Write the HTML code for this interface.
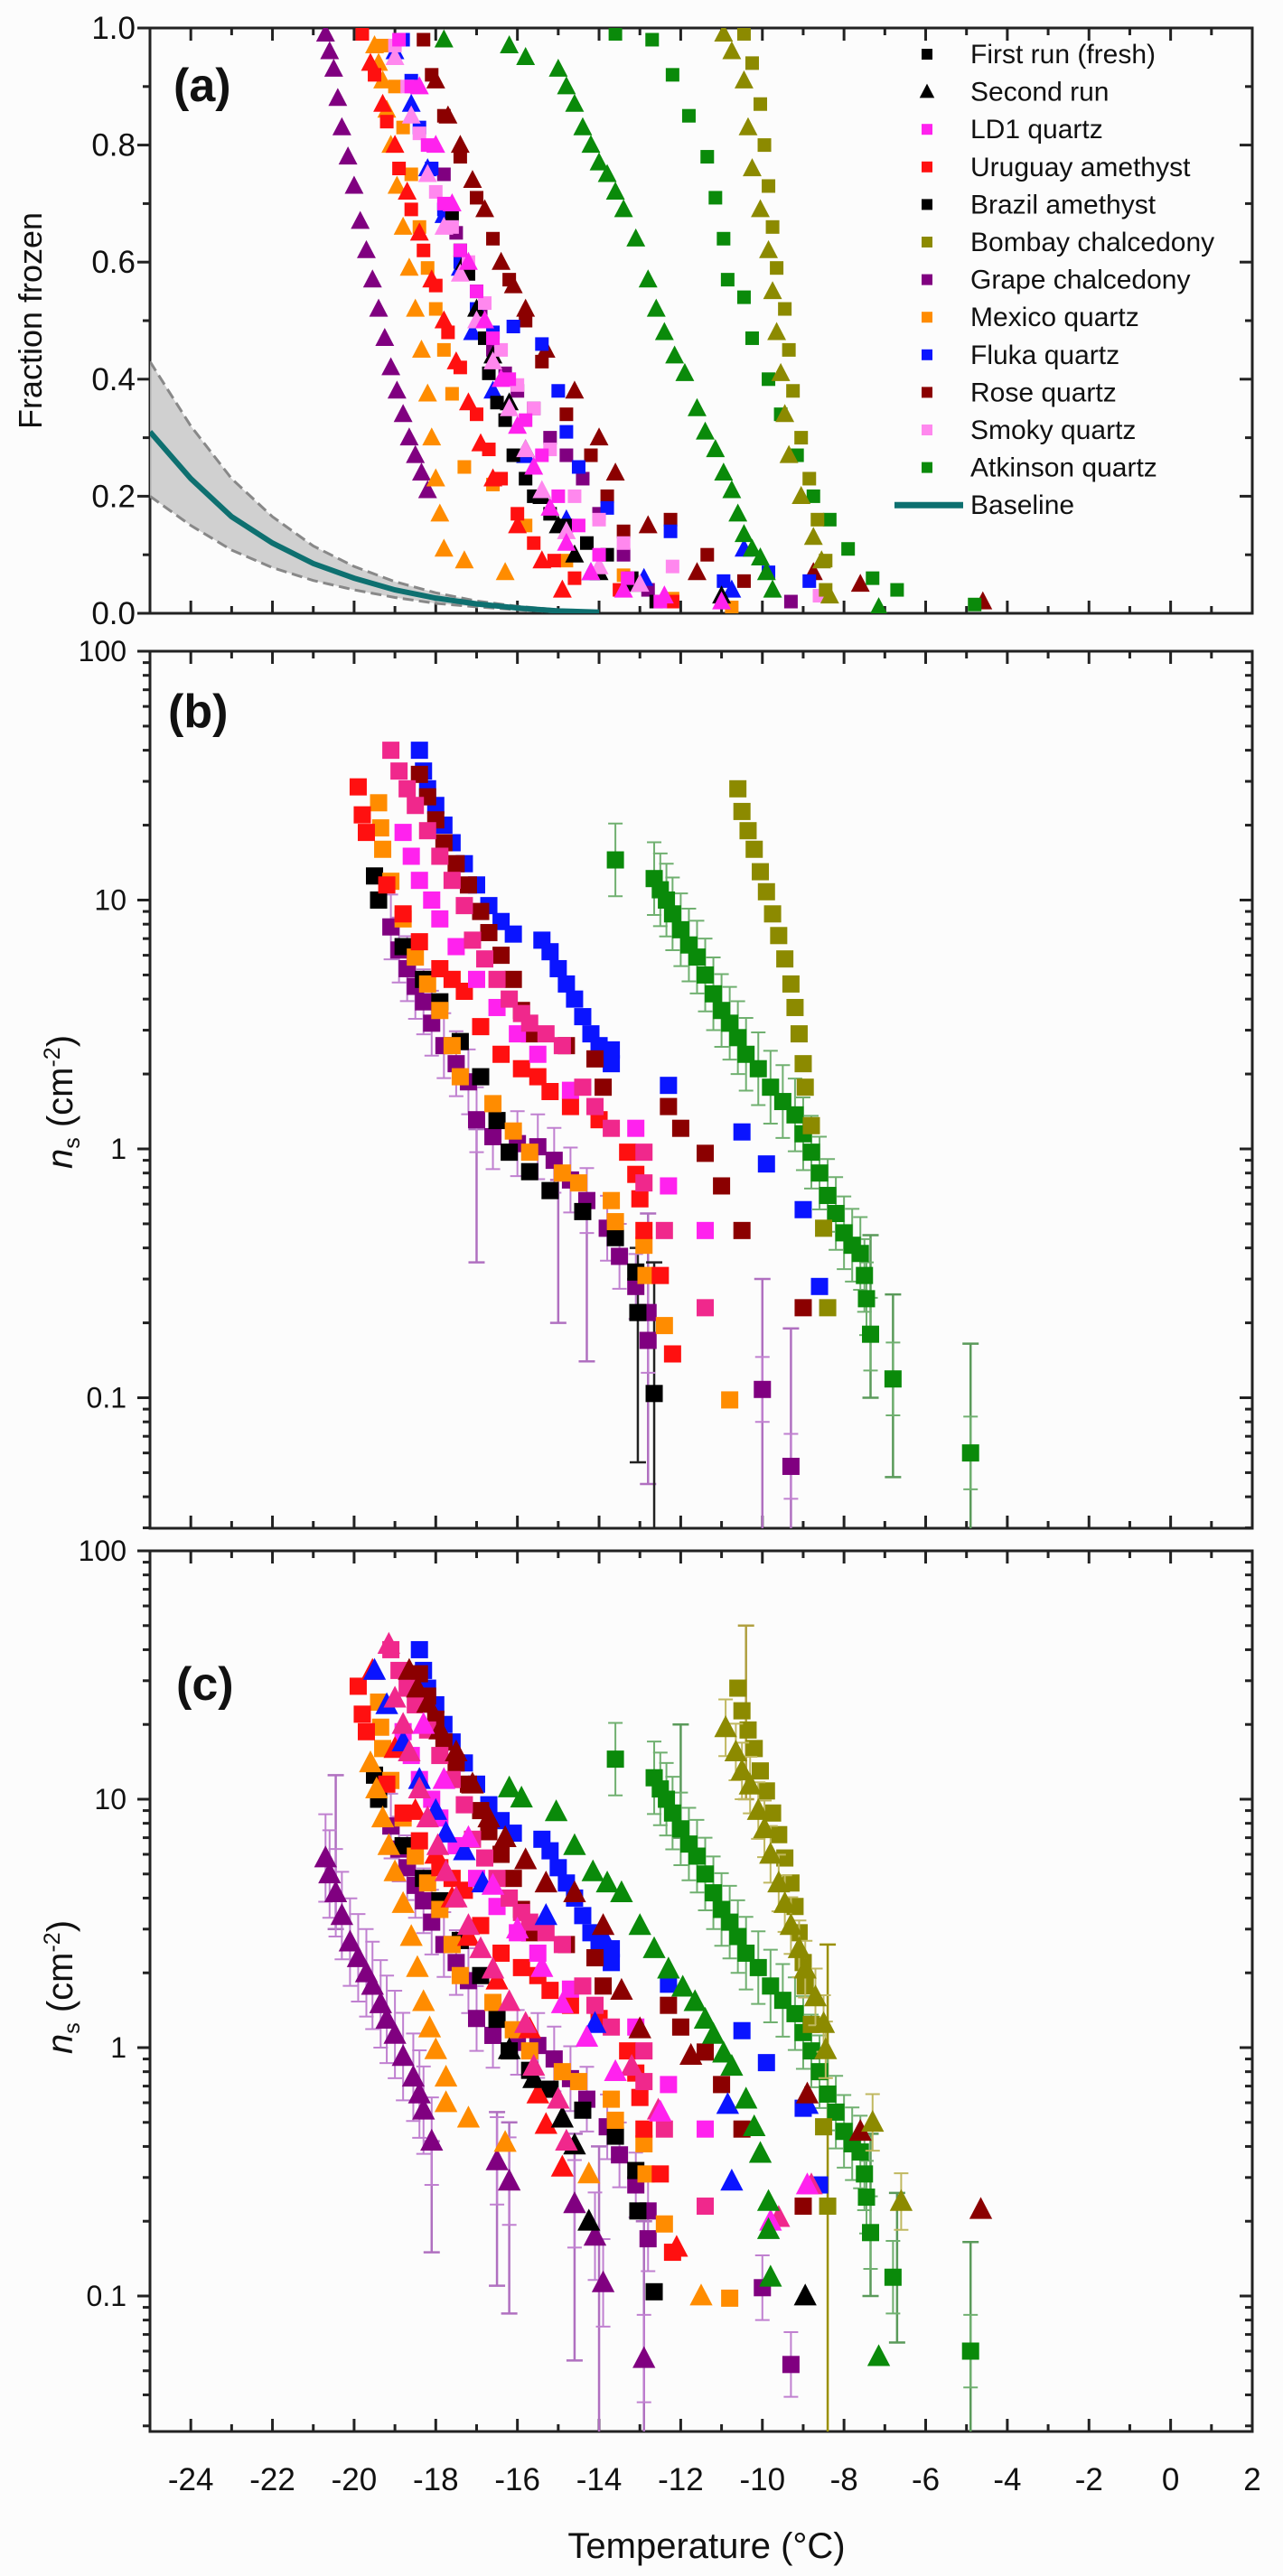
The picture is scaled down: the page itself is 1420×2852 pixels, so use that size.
<!DOCTYPE html>
<html><head><meta charset="utf-8"><style>
html,body{margin:0;padding:0;background:#fcfcfc;}
svg{display:block;}
text{font-family:"Liberation Sans Narrow","Liberation Sans",sans-serif;fill:#111;}
</style></head><body>
<svg id="fig" width="1420" height="2852" viewBox="0 0 1420 2852" xmlns="http://www.w3.org/2000/svg">
<defs>
<clipPath id="clipA"><rect x="166" y="31" width="1220" height="648"/></clipPath>
<clipPath id="clipB"><rect x="166" y="721" width="1220" height="971"/></clipPath>
<clipPath id="clipC"><rect x="166" y="1717" width="1220" height="975"/></clipPath>
</defs>
<g id="axes"></g>
<g id="bandA" clip-path="url(#clipA)"></g>
<g id="dataA" clip-path="url(#clipA)"></g>
<g id="dataB" clip-path="url(#clipB)"></g>
<g id="dataC" clip-path="url(#clipC)"></g>
<g id="legend"></g>
<text x="192" y="112" font-size="52" font-weight="bold" style="font-family:'Liberation Sans',sans-serif">(a)</text>
<text x="186" y="805" font-size="52" font-weight="bold" style="font-family:'Liberation Sans',sans-serif">(b)</text>
<text x="195" y="1882" font-size="52" font-weight="bold" style="font-family:'Liberation Sans',sans-serif">(c)</text>
<text transform="translate(46,355) rotate(-90)" text-anchor="middle" font-size="36" style="font-family:'Liberation Sans',sans-serif">Fraction frozen</text>
<text transform="translate(80,1220) rotate(-90)" text-anchor="middle" font-size="40" style="font-family:'Liberation Sans',sans-serif"><tspan font-style="italic">n</tspan><tspan font-size="25" dy="8">s</tspan><tspan dy="-8"> (cm</tspan><tspan font-size="25" dy="-14">-2</tspan><tspan dy="14">)</tspan></text>
<text transform="translate(80,2200) rotate(-90)" text-anchor="middle" font-size="40" style="font-family:'Liberation Sans',sans-serif"><tspan font-style="italic">n</tspan><tspan font-size="25" dy="8">s</tspan><tspan dy="-8"> (cm</tspan><tspan font-size="25" dy="-14">-2</tspan><tspan dy="14">)</tspan></text>
<text x="782" y="2832" text-anchor="middle" font-size="40">Temperature (°C)</text>
</svg>
<script>
// ---------- x axis ----------
const xTickLabels = ["-24","-22","-20","-18","-16","-14","-12","-10","-8","-6","-4","-2","0","2"];
const xTickValues = [-24,-22,-20,-18,-16,-14,-12,-10,-8,-6,-4,-2,0,2];
const aYTickValues = [0,0.2,0.4,0.6,0.8,1.0];
const aYTickLabels = ["0.0","0.2","0.4","0.6","0.8","1.0"];
const logTickValues = [0.1,1,10,100];
const logTickLabels = ["0.1","1","10","100"];

// ---------- baseline (panel a) ----------
const baseT = [-25,-24,-23,-22,-21,-20,-19,-18,-17,-16,-15,-14];
const baseF = [0.31,0.23,0.165,0.12,0.085,0.06,0.04,0.026,0.016,0.009,0.004,0.002];
const baseHi = [0.43,0.32,0.23,0.165,0.115,0.08,0.054,0.035,0.021,0.012,0.006,0.003];
const baseLo = [0.2,0.15,0.108,0.078,0.056,0.04,0.027,0.017,0.011,0.006,0.002,0.001];

// ---------- panel a : first run (squares) ----------
const aLd1SqT = [-18.9,-18.6,-18.2,-17.8,-17.4,-17.0,-16.6,-16.2,-15.8,-15.4,-15.0,-14.5,-14.0,-13.3,-12.5];
const aLd1SqF = [0.98,0.9,0.8,0.7,0.62,0.55,0.47,0.40,0.33,0.27,0.2,0.15,0.1,0.06,0.02];
const aSmokySqT = [-19.0,-18.7,-18.4,-18.0,-17.6,-17.2,-16.8,-16.4,-16.0,-15.6,-15.2,-14.6,-14.0,-13.4,-12.2,-8.6];
const aSmokySqF = [0.97,0.9,0.82,0.72,0.66,0.6,0.53,0.45,0.39,0.35,0.28,0.2,0.16,0.12,0.08,0.03];
const aUruSqT = [-19.8,-19.5,-19.2,-18.9,-18.6,-18.3,-18.0,-17.7,-17.4,-17.0,-16.7,-16.4,-16.0,-15.6,-15.1,-14.6,-13.5,-12.2];
const aUruSqF = [0.99,0.92,0.84,0.76,0.69,0.62,0.56,0.48,0.42,0.34,0.28,0.23,0.17,0.12,0.09,0.06,0.04,0.02];
const aBraSqT = [-17.6,-17.4,-17.2,-17.0,-16.8,-16.7,-16.5,-16.3,-16.1,-15.8,-15.6,-15.2,-14.8,-14.3,-13.8,-13.2,-12.6];
const aBraSqF = [0.68,0.62,0.58,0.55,0.47,0.41,0.36,0.33,0.27,0.23,0.2,0.17,0.15,0.12,0.1,0.06,0.02];
const aBomSqT = [-10.45,-10.25,-10.05,-9.95,-9.85,-9.75,-9.65,-9.45,-9.35,-9.25,-9.05,-8.85,-8.65,-8.45,-8.45];
const aBomSqF = [0.99,0.94,0.87,0.80,0.73,0.66,0.59,0.52,0.45,0.38,0.30,0.23,0.16,0.09,0.04];
const aGraSqT = [-17.8,-17.5,-17.2,-16.9,-16.6,-16.3,-16.0,-15.6,-15.2,-14.8,-14.4,-14.0,-13.4,-12.8,-9.3];
const aGraSqF = [0.75,0.65,0.58,0.52,0.45,0.41,0.38,0.35,0.3,0.27,0.23,0.17,0.1,0.04,0.02];
const aMexSqT = [-19.3,-19.0,-18.8,-18.6,-18.4,-18.2,-18.0,-17.8,-17.6,-17.3,-16.6,-15.8,-14.8,-13.4,-12.2,-10.75];
const aMexSqF = [0.97,0.9,0.83,0.75,0.66,0.59,0.52,0.45,0.375,0.25,0.22,0.15,0.09,0.065,0.025,0.01];
const aFluSqT = [-18.8,-18.6,-18.4,-18.1,-17.8,-17.4,-17.0,-16.6,-16.1,-15.4,-15.0,-14.8,-14.5,-13.8,-12.25,-10.95,-9.85,-8.85];
const aFluSqF = [0.98,0.91,0.83,0.76,0.69,0.6,0.52,0.48,0.49,0.46,0.38,0.31,0.25,0.18,0.14,0.055,0.07,0.055];
const aRosSqT = [-18.3,-18.1,-17.8,-17.4,-17.0,-16.6,-16.2,-15.8,-15.4,-14.8,-14.2,-13.8,-13.4,-12.25,-11.35,-10.45];
const aRosSqF = [0.98,0.92,0.85,0.78,0.71,0.64,0.57,0.5,0.43,0.34,0.27,0.2,0.14,0.16,0.1,0.055];
const aAtkSqT = [-13.6,-12.7,-12.2,-11.8,-11.35,-11.15,-10.95,-10.85,-10.45,-10.25,-9.85,-9.55,-9.15,-8.75,-8.35,-7.9,-7.3,-6.7,-4.8];
const aAtkSqF = [0.99,0.98,0.92,0.85,0.78,0.71,0.64,0.57,0.54,0.47,0.40,0.34,0.27,0.2,0.16,0.11,0.06,0.04,0.015];

// ---------- panel a : second run (triangles) ----------
const aLd1TrT = [-18.4,-18.0,-17.6,-17.2,-16.8,-16.4,-16.0,-15.6,-15.2,-14.8,-14.2,-13.4,-12.4,-11.0];
const aLd1TrF = [0.9,0.8,0.7,0.6,0.5,0.4,0.32,0.25,0.18,0.12,0.07,0.04,0.03,0.02];
const aSmokyTrT = [-19.0,-18.6,-18.2,-17.8,-17.4,-17.0,-16.6,-16.2,-15.8,-15.4,-14.8,-14.0,-13.0];
const aSmokyTrF = [0.95,0.85,0.75,0.66,0.58,0.5,0.43,0.35,0.28,0.21,0.14,0.08,0.05];
const aUruTrT = [-19.6,-19.3,-19.0,-18.7,-18.4,-18.1,-17.8,-17.5,-17.2,-16.9,-16.6,-16.0,-15.4,-14.9];
const aUruTrF = [0.94,0.87,0.8,0.72,0.65,0.57,0.5,0.43,0.36,0.29,0.23,0.15,0.09,0.04];
const aBraTrT = [-17.3,-17.0,-16.6,-16.2,-15.8,-15.4,-15.0,-14.6,-14.0,-13.2,-11.0];
const aBraTrF = [0.6,0.52,0.44,0.36,0.28,0.2,0.15,0.1,0.07,0.05,0.03];
const aBomTrT = [-10.95,-10.75,-10.45,-10.35,-10.25,-10.05,-9.85,-9.75,-9.65,-9.55,-9.45,-9.35,-9.05,-8.75,-8.55,-8.35];
const aBomTrF = [0.99,0.96,0.91,0.83,0.76,0.69,0.62,0.55,0.48,0.41,0.34,0.27,0.2,0.13,0.09,0.03];
const aGraTrT = [-20.7,-20.6,-20.5,-20.4,-20.3,-20.15,-20.0,-19.85,-19.7,-19.55,-19.4,-19.25,-19.1,-18.95,-18.8,-18.65,-18.5,-18.35,-18.2];
const aGraTrF = [0.99,0.96,0.93,0.88,0.83,0.78,0.73,0.67,0.62,0.57,0.52,0.47,0.42,0.38,0.34,0.3,0.27,0.24,0.21];
const aMexTrT = [-19.5,-19.4,-19.3,-19.2,-19.1,-18.95,-18.8,-18.65,-18.5,-18.35,-18.2,-18.1,-18.0,-17.9,-17.8,-17.3,-16.3];
const aMexTrF = [0.97,0.94,0.91,0.86,0.8,0.73,0.66,0.59,0.52,0.45,0.375,0.3,0.23,0.17,0.11,0.09,0.07];
const aFluTrT = [-19.0,-18.6,-18.2,-17.8,-17.4,-17.1,-16.6,-15.8,-14.8,-14.2,-12.9,-10.75,-10.45];
const aFluTrF = [0.96,0.87,0.76,0.68,0.59,0.48,0.38,0.27,0.16,0.07,0.06,0.04,0.11];
const aRosTrT = [-18.0,-17.7,-17.4,-17.1,-16.8,-16.4,-16.1,-15.8,-15.3,-14.6,-14.0,-13.6,-12.8,-11.6,-8.75,-7.6,-4.6];
const aRosTrF = [0.91,0.85,0.8,0.74,0.69,0.6,0.56,0.52,0.45,0.38,0.3,0.24,0.15,0.07,0.07,0.05,0.02];
const aAtkTrT = [-17.8,-16.2,-15.8,-15.0,-14.8,-14.6,-14.4,-14.2,-14.0,-13.8,-13.6,-13.4,-13.1,-12.8,-12.6,-12.4,-12.15,-11.9,-11.6,-11.4,-11.15,-10.95,-10.75,-10.6,-10.45,-10.25,-10.05,-9.9,-9.75,-7.15];
const aAtkTrF = [0.98,0.97,0.95,0.93,0.9,0.87,0.83,0.8,0.77,0.75,0.72,0.69,0.64,0.57,0.52,0.48,0.44,0.41,0.35,0.31,0.28,0.24,0.21,0.17,0.135,0.11,0.095,0.07,0.04,0.01];

// ---------- panel b / c : first run n_s (squares) ----------
const nLd1SqT = [-18.8,-18.6,-18.4,-18.1,-17.9,-17.5,-17.0,-16.5,-16.0,-15.5,-14.7,-13.1,-12.3,-11.4];
const nLd1SqV = [18.7,15,12,10,8.4,6.5,4.8,3.7,2.9,2.4,1.72,1.21,0.71,0.47];
const nSmokySqT = [-19.1,-18.9,-18.7,-18.5,-18.2,-17.9,-17.6,-17.3,-17.1,-16.8,-16.5,-16.2,-15.9,-15.7,-15.3,-14.9,-14.4,-14.1,-13.7,-12.9,-12.9,-12.4,-11.4];
const nSmokySqV = [40,33,28,24,19,15,12,9.5,6.9,5.8,4.8,4.0,3.5,3.2,2.9,2.6,1.77,1.48,1.21,0.97,0.73,0.47,0.23];
const nUruSqT = [-19.9,-19.8,-19.7,-19.2,-18.8,-18.4,-17.9,-17.6,-17.3,-16.9,-16.4,-15.9,-15.5,-15.2,-14.7,-14.0,-13.3,-13.1,-13.0,-12.9,-12.5,-12.2];
const nUruSqV = [28.5,22,18.7,11.5,8.8,6.8,5.3,4.8,4.3,3.1,2.4,2.1,1.95,1.7,1.48,1.31,0.97,0.79,0.63,0.47,0.31,0.15];
const nBraSqT = [-19.5,-19.4,-18.8,-18.3,-17.9,-17.4,-16.9,-16.5,-16.2,-15.7,-15.2,-14.4,-13.6,-13.1,-13.05,-12.65];
const nBraSqV = [12.5,10,6.5,4.8,3.9,2.7,1.95,1.3,0.97,0.81,0.68,0.56,0.44,0.32,0.22,0.104];
const nBomSqT = [-10.6,-10.5,-10.35,-10.2,-10.05,-9.9,-9.75,-9.6,-9.45,-9.3,-9.2,-9.1,-9.0,-8.95,-8.8,-8.5,-8.4];
const nBomSqV = [28,22.7,19,16,13,10.8,8.8,7.2,5.8,4.6,3.7,2.9,2.2,1.77,1.24,0.48,0.23];
const nGraSqT = [-19.1,-18.9,-18.7,-18.5,-18.3,-18.1,-17.8,-17.5,-17.2,-17.0,-16.6,-16.0,-15.5,-15.1,-14.7,-14.3,-13.8,-13.5,-13.1,-12.8,-12.8,-10.0,-9.3];
const nGraSqV = [7.8,6.3,5.3,4.5,3.9,3.2,2.6,2.2,1.86,1.31,1.12,1.05,1.02,0.9,0.75,0.62,0.48,0.37,0.28,0.22,0.17,0.108,0.053];
const nMexSqT = [-19.4,-19.35,-19.3,-19.1,-18.8,-18.5,-18.2,-17.9,-17.6,-17.4,-16.6,-16.1,-15.7,-14.9,-14.5,-13.7,-13.6,-12.9,-12.85,-12.4,-10.8];
const nMexSqV = [24.6,19.5,16,11.9,8.4,5.9,4.6,3.6,2.6,1.95,1.52,1.18,0.97,0.8,0.73,0.62,0.51,0.41,0.31,0.195,0.098];
const nFluSqT = [-18.4,-18.3,-18.2,-18.0,-17.8,-17.6,-17.3,-17.0,-16.7,-16.4,-16.1,-15.4,-15.2,-15.0,-14.8,-14.6,-14.4,-14.2,-14.0,-13.7,-13.7,-12.3,-10.5,-9.9,-9.0,-8.6];
const nFluSqV = [40,33,28,24,20,17,14,11.5,9.5,8.2,7.3,6.9,6.2,5.3,4.6,4.0,3.4,2.9,2.6,2.2,2.5,1.8,1.17,0.87,0.57,0.28];
const nRosSqT = [-18.4,-18.2,-18.0,-17.8,-17.5,-17.2,-16.9,-16.7,-16.4,-16.1,-15.9,-15.7,-14.8,-14.1,-13.9,-12.3,-12.0,-11.4,-11.0,-10.5,-9.0];
const nRosSqV = [32,26,21,17,14,11.5,9,7.4,6,4.8,3.6,2.9,2.6,2.3,1.77,1.48,1.21,0.96,0.71,0.47,0.23];
const nAtkSqT = [-13.6,-12.65,-12.5,-12.35,-12.2,-12.0,-11.8,-11.6,-11.4,-11.2,-11.0,-10.8,-10.6,-10.4,-10.1,-9.8,-9.5,-9.2,-9.0,-8.8,-8.6,-8.4,-8.2,-8.0,-7.8,-7.6,-7.5,-7.45,-7.35,-6.8,-4.9];
const nAtkSqV = [14.5,12.2,11,10,8.8,7.6,6.6,5.9,5,4.2,3.6,3.2,2.8,2.4,2.1,1.77,1.55,1.37,1.15,0.97,0.8,0.65,0.55,0.46,0.41,0.38,0.31,0.25,0.18,0.119,0.06];

// ---------- panel c : second run n_s (triangles) ----------
const nLd1TrT = [-18.3,-17.8,-17.2,-16.6,-16.0,-15.4,-14.9,-14.3,-13.6,-12.5,-9.8,-8.9];
const nLd1TrV = [20,12,7,4.5,3,2.1,1.5,1.1,0.8,0.55,0.2,0.28];
const nSmokyTrT = [-19.15,-19.0,-18.8,-18.65,-18.4,-18.2,-17.95,-17.75,-17.5,-17.2,-16.9,-16.6,-16.2,-15.8,-15.6,-15.0,-14.8,-13.2,-12.55,-9.6,-8.8];
const nSmokyTrV = [42,25.5,20,15.5,11,8.4,6.5,5.1,4.0,3.1,2.5,2.07,1.53,1.25,0.84,0.62,0.42,0.84,0.56,0.207,0.28];
const nUruTrT = [-19.55,-19.0,-18.5,-18.0,-17.6,-17.2,-16.5,-15.7,-15.5,-15.3,-14.9,-12.1];
const nUruTrV = [33,16,9,6,4,2.8,1.87,1.19,0.65,0.49,0.33,0.157];
const nBraTrT = [-16.2,-15.6,-14.9,-14.6,-14.25,-8.95];
const nBraTrV = [0.98,0.75,0.52,0.405,0.2,0.1];
const nBomTrT = [-10.9,-10.65,-10.5,-10.3,-10.1,-9.95,-9.8,-9.6,-9.45,-9.3,-9.1,-8.95,-8.7,-8.5,-8.45,-7.3,-6.6];
const nBomTrV = [19.4,15.5,13,11.4,9,7.6,6,4.6,3.8,3.1,2.5,2.07,1.6,1.25,0.98,0.5,0.24];
const nGraTrT = [-20.7,-20.6,-20.45,-20.3,-20.1,-19.9,-19.7,-19.55,-19.35,-19.2,-19.0,-18.8,-18.55,-18.4,-18.3,-18.1,-16.5,-16.2,-14.6,-14.1,-13.9,-12.9];
const nGraTrV = [5.8,5.0,4.2,3.4,2.66,2.3,2.0,1.78,1.5,1.3,1.13,0.92,0.76,0.65,0.56,0.42,0.35,0.29,0.235,0.174,0.113,0.056];
const nMexTrT = [-19.6,-19.45,-19.3,-19.15,-19.0,-18.8,-18.6,-18.45,-18.3,-18.15,-18.0,-17.75,-17.75,-17.2,-16.3,-14.25,-11.5];
const nMexTrV = [14,11,8.4,6.5,5.1,3.8,2.8,2.1,1.53,1.2,0.98,0.76,0.6,0.52,0.415,0.31,0.1];
const nFluTrT = [-19.5,-19.2,-18.8,-18.4,-18.0,-17.75,-17.3,-16.85,-15.3,-13.9,-14.1,-10.85,-10.75,-8.9];
const nFluTrV = [33,24,17,12,9,7.3,6.2,4.6,3.4,2.8,1.25,0.59,0.29,0.59];
const nRosTrT = [-18.65,-18.45,-18.2,-17.9,-17.5,-17.1,-16.7,-16.3,-15.8,-15.3,-14.6,-13.9,-13.45,-13.0,-11.75,-8.9,-7.6,-4.65];
const nRosTrV = [33,28,24.3,19,15.5,11.5,8.4,7,5.7,4.6,4.2,3.1,1.7,1.19,0.93,0.65,0.46,0.223];
const nAtkTrT = [-16.2,-15.9,-15.05,-14.6,-14.15,-13.8,-13.45,-13.0,-12.65,-12.3,-11.95,-11.65,-11.4,-11.2,-10.95,-10.75,-10.4,-10.2,-10.05,-9.85,-9.85,-9.8,-7.15];
const nAtkTrV = [11.1,10.1,8.9,6.5,5.1,4.6,4.2,3.1,2.5,2.07,1.75,1.53,1.3,1.13,0.95,0.84,0.62,0.48,0.375,0.24,0.185,0.119,0.057];

// ---------- explicit long error bars [T, low, high] ----------
const barsBT = [-13.05,-12.8,-10.0,-9.3,-7.35,-6.8,-4.9,-12.65,-17.0,-15.0,-14.3];
const barsBLo = [0.055,0.045,0.02,0.02,0.1,0.048,0.02,0.02,0.35,0.2,0.14];
const barsBHi = [0.4,0.55,0.3,0.19,0.45,0.26,0.165,0.35,1.2,0.75,0.6];
const barsBColor = ["#222","#b070c0","#b070c0","#b070c0","#5a9a5a","#5a9a5a","#5a9a5a","#222","#b070c0","#b070c0","#b070c0"];
const barsCT = [-20.45,-18.1,-16.5,-16.2,-14.6,-14.0,-12.9,-8.4,-7.35,-6.7,-4.9,-10.4,-12.0];
const barsCLo = [3,0.15,0.11,0.085,0.055,0.02,0.02,0.02,0.1,0.065,0.02,10,7];
const barsCHi = [12.5,0.42,0.55,0.5,0.45,0.4,0.2,2.6,0.45,0.26,0.165,50,20];
const barsCColor = ["#b070c0","#b070c0","#b070c0","#b070c0","#b070c0","#b070c0","#b070c0","#9a9000","#5a9a5a","#5a9a5a","#5a9a5a","#b0a040","#5a9a5a"];

const NS = "http://www.w3.org/2000/svg";
const L = 166, R = 1386;
const xs = t => L + (t + 25) * 45.185;
const yA = f => 679 - 648 * f;
const yB = v => 1272 - 275.5 * Math.log10(v);
const yC = v => 2267 - 275 * Math.log10(v);

function mk(tag, attrs, parent) {
  const e = document.createElementNS(NS, tag);
  for (const k in attrs) e.setAttribute(k, attrs[k]);
  parent.appendChild(e);
  return e;
}
const axes = document.getElementById('axes');

const panels = [
  {name:'a', top:31, bot:679},
  {name:'b', top:721, bot:1692},
  {name:'c', top:1717, bot:2692}
];
panels.forEach(p => {
  const r = mk('rect', {x:L, y:p.top, width:R-L, height:p.bot-p.top, fill:'none', stroke:'#222', 'stroke-width':3}, axes);
  
  
  for (let t = -25; t <= 2; t++) {
    const major = (t % 2 === 0);
    const len = major ? 14 : 8;
    const x = xs(t);
    mk('line', {x1:x, x2:x, y1:p.bot, y2:p.bot-len, stroke:'#222', 'stroke-width':3}, axes);
    mk('line', {x1:x, x2:x, y1:p.top, y2:p.top+len, stroke:'#222', 'stroke-width':3}, axes);
  }
});
for (let i = 0; i <= 10; i++) {
  const y = yA(i / 10), len = (i % 2 === 0) ? 14 : 8;
  mk('line', {x1:L, x2:L-len, y1:y, y2:y, stroke:'#222', 'stroke-width':3}, axes);
  mk('line', {x1:R, x2:R-len, y1:y, y2:y, stroke:'#222', 'stroke-width':3}, axes);
}
aYTickValues.forEach((v, i) => {
  const t = mk('text', {x:150, y:yA(v)+12, 'text-anchor':'end', 'font-size':35}, axes);
  t.textContent = aYTickLabels[i];
  
  
});
[[yB,721,1692,'b'],[yC,1717,2692,'c']].forEach(([yf,top,bot,nm]) => {
  for (let d = -2; d <= 2; d++) {
    for (let m = 1; m <= 9; m++) {
      const v = m * Math.pow(10, d), y = yf(v);
      if (y < top - 0.5 || y > bot + 0.5) continue;
      const len = (m === 1) ? 14 : 8;
      mk('line', {x1:L-len, x2:L, y1:y, y2:y, stroke:'#222', 'stroke-width':3}, axes);
      mk('line', {x1:R, x2:R-len, y1:y, y2:y, stroke:'#222', 'stroke-width':3}, axes);
    }
  }
  logTickValues.forEach((v, i) => {
    const t = mk('text', {x:140, y:yf(v)+11, 'text-anchor':'end', 'font-size':32, style:"font-family:'Liberation Sans',sans-serif"}, axes);
    t.textContent = logTickLabels[i];
    
    
  });
});
xTickValues.forEach((v, i) => {
  const t = mk('text', {x:xs(v), y:2757, 'text-anchor':'middle', 'font-size':35}, axes);
  t.textContent = xTickLabels[i];
  
  
});

const bandA = document.getElementById('bandA');
let d = '';
baseT.forEach((t, i) => { d += (i ? 'L' : 'M') + xs(t) + ' ' + yA(baseHi[i]) + ' '; });
for (let i = baseT.length - 1; i >= 0; i--) d += 'L' + xs(baseT[i]) + ' ' + yA(baseLo[i]) + ' ';
const band = mk('path', {d:d + 'Z', fill:'#c8c8c8', 'fill-opacity':0.85}, bandA);


const lp = arr => arr.map((v, i) => (i ? 'L' : 'M') + xs(baseT[i]) + ' ' + yA(v)).join(' ');
const hiL = mk('path', {d:lp(baseHi), fill:'none', stroke:'#888', 'stroke-width':3, 'stroke-dasharray':'12 6'}, bandA);


const loL = mk('path', {d:lp(baseLo), fill:'none', stroke:'#888', 'stroke-width':3, 'stroke-dasharray':'12 6'}, bandA);


const bl = mk('path', {d:lp(baseF), fill:'none', stroke:'#0e7070', 'stroke-width':6}, bandA);



const C = {ld1:'#ff22ee', smokyA:'#ff88ee', smoky:'#f0288c', uru:'#ff1010', bra:'#000000', bom:'#8c8a00', gra:'#800080', mex:'#ff8c00', flu:'#0a14ff', ros:'#8b0000', atk:'#0a8a0a'};

function marker(g, shape, x, y, s, col, name) {
  let e;
  if (shape === 'sq') e = mk('rect', {x:x-s/2, y:y-s/2, width:s, height:s, fill:col}, g);
  else e = mk('path', {d:`M${x} ${y-s*0.6}L${x+s*0.55} ${y+s*0.45}L${x-s*0.55} ${y+s*0.45}Z`, fill:col}, g);
  
  
}
function series(gid, shape, Ts, Vs, yf, s, col, name, errF, errCol) {
  const g = document.getElementById(gid);
  const sg = mk('g', {}, g);
  
  
  if (errF) {
    Ts.forEach((t, i) => {
      const x = xs(t);
      mk('line', {x1:x, x2:x, y1:yf(Vs[i]*errF), y2:yf(Vs[i]/errF), stroke:errCol, 'stroke-width':2}, sg);
      mk('line', {x1:x-8, x2:x+8, y1:yf(Vs[i]*errF), y2:yf(Vs[i]*errF), stroke:errCol, 'stroke-width':2}, sg);
      mk('line', {x1:x-8, x2:x+8, y1:yf(Vs[i]/errF), y2:yf(Vs[i]/errF), stroke:errCol, 'stroke-width':2}, sg);
    });
  }
  Ts.forEach((t, i) => marker(sg, shape, xs(t), yf(Vs[i]), s, col, name + '-point'));
}
function bars(gid, Ts, Lo, Hi, Col, yf, name) {
  const g = document.getElementById(gid);
  Ts.forEach((t, i) => {
    const x = xs(t);
    const b = mk('g', {stroke:Col[i], 'stroke-width':2.5}, g);
    
    
    mk('line', {x1:x, x2:x, y1:yf(Lo[i]), y2:yf(Hi[i])}, b);
    mk('line', {x1:x-9, x2:x+9, y1:yf(Lo[i]), y2:yf(Lo[i])}, b);
    mk('line', {x1:x-9, x2:x+9, y1:yf(Hi[i]), y2:yf(Hi[i])}, b);
  });
}

const SA = 15, TA = 19;
series('dataA','tr',aGraTrT,aGraTrF,yA,TA,C.gra,'grape-second-run-a');
series('dataA','tr',aMexTrT,aMexTrF,yA,TA,C.mex,'mexico-second-run-a');
series('dataA','sq',aMexSqT,aMexSqF,yA,SA,C.mex,'mexico-first-run-a');
series('dataA','sq',aUruSqT,aUruSqF,yA,SA,C.uru,'uruguay-first-run-a');
series('dataA','tr',aUruTrT,aUruTrF,yA,TA,C.uru,'uruguay-second-run-a');
series('dataA','sq',aGraSqT,aGraSqF,yA,SA,C.gra,'grape-first-run-a');
series('dataA','sq',aRosSqT,aRosSqF,yA,SA,C.ros,'rose-first-run-a');
series('dataA','tr',aRosTrT,aRosTrF,yA,TA,C.ros,'rose-second-run-a');
series('dataA','sq',aFluSqT,aFluSqF,yA,SA,C.flu,'fluka-first-run-a');
series('dataA','tr',aFluTrT,aFluTrF,yA,TA,C.flu,'fluka-second-run-a');
series('dataA','sq',aBraSqT,aBraSqF,yA,SA,C.bra,'brazil-first-run-a');
series('dataA','tr',aBraTrT,aBraTrF,yA,TA,C.bra,'brazil-second-run-a');
series('dataA','sq',aSmokySqT,aSmokySqF,yA,SA,C.smokyA,'smoky-first-run-a');
series('dataA','tr',aSmokyTrT,aSmokyTrF,yA,TA,C.smokyA,'smoky-second-run-a');
series('dataA','sq',aLd1SqT,aLd1SqF,yA,SA,C.ld1,'ld1-first-run-a');
series('dataA','tr',aLd1TrT,aLd1TrF,yA,TA,C.ld1,'ld1-second-run-a');
series('dataA','tr',aAtkTrT,aAtkTrF,yA,TA,C.atk,'atkinson-second-run-a');
series('dataA','sq',aAtkSqT,aAtkSqF,yA,SA,C.atk,'atkinson-first-run-a');
series('dataA','tr',aBomTrT,aBomTrF,yA,TA,C.bom,'bombay-second-run-a');
series('dataA','sq',aBomSqT,aBomSqF,yA,SA,C.bom,'bombay-first-run-a');

const SB = 19, TB = 23;
bars('dataB', barsBT, barsBLo, barsBHi, barsBColor, yB, 'error-bar-b');
bars('dataC', barsCT, barsCLo, barsCHi, barsCColor, yC, 'error-bar-c');
['B','C'].forEach(P => {
  const gid = 'data' + P, yf = (P === 'B') ? yB : yC, p = P.toLowerCase();
  series(gid,'sq',nGraSqT,nGraSqV,yf,SB,C.gra,'grape-first-run-'+p,1.35,'#c080d0');
  series(gid,'sq',nAtkSqT,nAtkSqV,yf,SB,C.atk,'atkinson-first-run-'+p,1.4,'#70b070');
  series(gid,'sq',nBraSqT,nBraSqV,yf,SB,C.bra,'brazil-first-run-'+p);
  series(gid,'sq',nMexSqT,nMexSqV,yf,SB,C.mex,'mexico-first-run-'+p);
  series(gid,'sq',nUruSqT,nUruSqV,yf,SB,C.uru,'uruguay-first-run-'+p);
  series(gid,'sq',nFluSqT,nFluSqV,yf,SB,C.flu,'fluka-first-run-'+p);
  series(gid,'sq',nRosSqT,nRosSqV,yf,SB,C.ros,'rose-first-run-'+p);
  series(gid,'sq',nLd1SqT,nLd1SqV,yf,SB,C.ld1,'ld1-first-run-'+p);
  series(gid,'sq',nSmokySqT,nSmokySqV,yf,SB,C.smoky,'smoky-first-run-'+p);
  series(gid,'sq',nBomSqT,nBomSqV,yf,SB,C.bom,'bombay-first-run-'+p);
});
series('dataC','tr',nGraTrT,nGraTrV,yC,TB,C.gra,'grape-second-run-c',1.5,'#c080d0');
series('dataC','tr',nMexTrT,nMexTrV,yC,TB,C.mex,'mexico-second-run-c');
series('dataC','tr',nUruTrT,nUruTrV,yC,TB,C.uru,'uruguay-second-run-c');
series('dataC','tr',nBraTrT,nBraTrV,yC,TB,C.bra,'brazil-second-run-c');
series('dataC','tr',nFluTrT,nFluTrV,yC,TB,C.flu,'fluka-second-run-c');
series('dataC','tr',nRosTrT,nRosTrV,yC,TB,C.ros,'rose-second-run-c');
series('dataC','tr',nSmokyTrT,nSmokyTrV,yC,TB,C.smoky,'smoky-second-run-c');
series('dataC','tr',nLd1TrT,nLd1TrV,yC,TB,C.ld1,'ld1-second-run-c');
series('dataC','tr',nAtkTrT,nAtkTrV,yC,TB,C.atk,'atkinson-second-run-c');
series('dataC','tr',nBomTrT,nBomTrV,yC,TB,C.bom,'bombay-second-run-c',1.3,'#c0b860');

const legLabels = ["First run (fresh)","Second run","LD1 quartz","Uruguay amethyst","Brazil amethyst","Bombay chalcedony","Grape chalcedony","Mexico quartz","Fluka quartz","Rose quartz","Smoky quartz","Atkinson quartz","Baseline"];
const legColors = ["#000","#000",C.ld1,C.uru,C.bra,C.bom,C.gra,C.mex,C.flu,C.ros,C.smokyA,C.atk,"#0e7070"];
const legShapes = ["sq","tr","sq","sq","sq","sq","sq","sq","sq","sq","sq","sq","line"];
const leg = document.getElementById('legend');
legLabels.forEach((lab, i) => {
  const y = 60 + i * 41.6;
  const g = mk('g', {}, leg);
  
  
  if (legShapes[i] === 'line') mk('line', {x1:990, x2:1066, y1:y, y2:y, stroke:legColors[i], 'stroke-width':7}, g);
  else marker(g, legShapes[i], 1026, y, legShapes[i] === 'sq' ? 12 : 15, legColors[i], 'legend-marker');
  const t = mk('text', {x:1074, y:y+10, 'font-size':30}, g);
  t.textContent = lab;
});
</script>
</body></html>
